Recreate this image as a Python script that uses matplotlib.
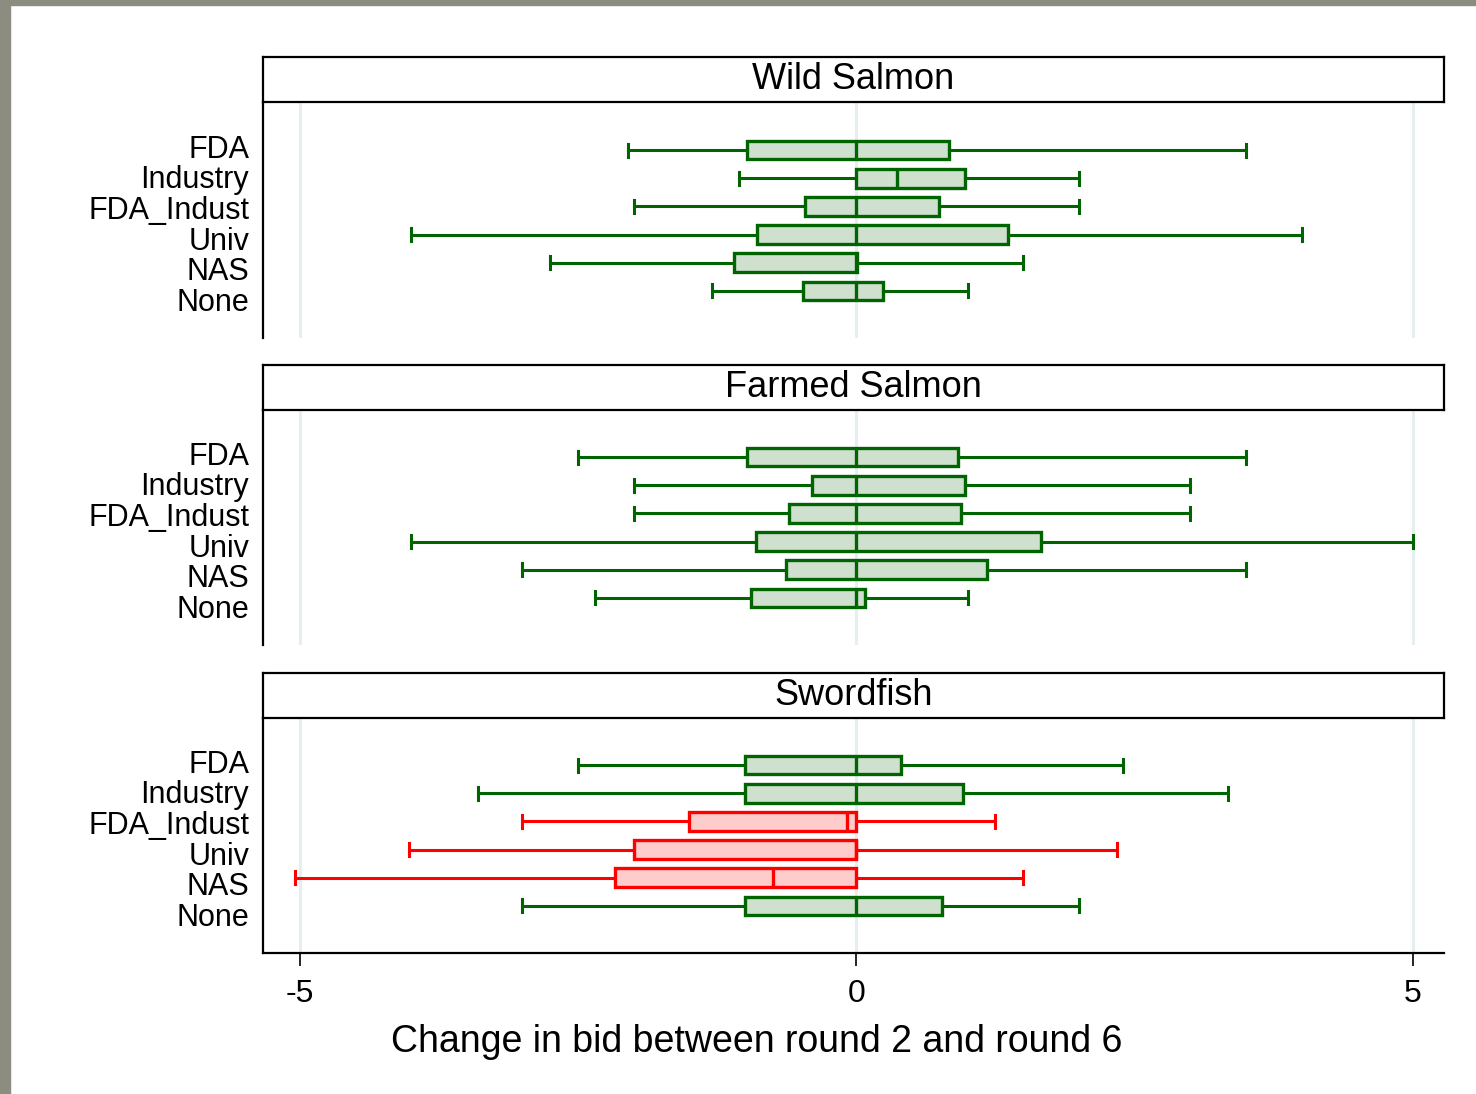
import matplotlib
matplotlib.use('Agg')
import matplotlib.pyplot as plt
from matplotlib.patches import Rectangle

plt.rcParams['font.family'] = ['Liberation Sans', 'DejaVu Sans']

groups = ['FDA', 'Industry', 'FDA_Indust', 'Univ', 'NAS', 'None']
panels = ['Wild Salmon', 'Farmed Salmon', 'Swordfish']

# whisker low, q1, median, q3, whisker high
wild_lo = [-2.05, -1.05, -2.0, -4.0, -2.75, -1.30]
wild_q1 = [-0.98, 0.0, -0.46, -0.89, -1.10, -0.48]
wild_med = [0.0, 0.37, 0.0, 0.0, 0.0, 0.0]
wild_q3 = [0.83, 0.98, 0.74, 1.36, 0.01, 0.24]
wild_hi = [3.50, 2.0, 2.0, 4.0, 1.5, 1.0]

farm_lo = [-2.5, -2.0, -2.0, -4.0, -3.0, -2.35]
farm_q1 = [-0.98, -0.40, -0.60, -0.90, -0.63, -0.95]
farm_med = [0.0, 0.0, 0.0, 0.0, 0.0, 0.0]
farm_q3 = [0.91, 0.98, 0.94, 1.66, 1.17, 0.08]
farm_hi = [3.5, 3.0, 3.0, 5.0, 3.5, 1.0]

sword_lo = [-2.5, -3.4, -3.0, -4.02, -5.04, -3.0]
sword_q1 = [-1.0, -1.0, -1.5, -2.0, -2.17, -1.0]
sword_med = [0.0, 0.0, -0.08, 0.0, -0.75, 0.0]
sword_q3 = [0.40, 0.96, 0.0, 0.0, 0.0, 0.77]
sword_hi = [2.4, 3.34, 1.25, 2.34, 1.5, 2.0]

# which boxes are drawn in red (significant decrease)
sword_red = [False, False, True, True, True, False]

data = [
    (wild_lo, wild_q1, wild_med, wild_q3, wild_hi, [False] * 6),
    (farm_lo, farm_q1, farm_med, farm_q3, farm_hi, [False] * 6),
    (sword_lo, sword_q1, sword_med, sword_q3, sword_hi, sword_red),
]

green_edge = '#006400'
green_fill = '#cfe0cf'
red_edge = '#ff0000'
red_fill = '#ffcccc'

W, H = 1476, 1094
fig = plt.figure(figsize=(W / 100, H / 100), dpi=100)
fig.patch.set_facecolor('white')

# grey frame at top and left
fig.patches.append(Rectangle((0, 1 - 5 / H), 1, 5 / H, transform=fig.transFigure,
                             color='#8c8c80', zorder=0))
fig.patches.append(Rectangle((0, 0), 10 / W, 1, transform=fig.transFigure,
                             color='#8c8c80', zorder=0))

left = 263 / W
width = (1444 - 263) / W
plot_tops = [103, 410, 718]
plot_h = 235
strip_tops = [57, 365, 673]
strip_h = 45

label_pos = [-0.14 + 1.09 * i for i in range(len(groups))]

for k in range(3):
    lo, q1, med, q3, hi, red = data[k]
    ax = fig.add_axes([left, 1 - (plot_tops[k] + plot_h) / H, width, plot_h / H])
    stats = []
    for i in range(len(groups)):
        stats.append({'whislo': lo[i], 'q1': q1[i], 'med': med[i], 'q3': q3[i],
                      'whishi': hi[i], 'fliers': [], 'label': groups[i]})
    bp = ax.bxp(stats, positions=range(len(groups)), widths=0.67, capwidths=0.46,
                orientation='horizontal', patch_artist=True, showfliers=False)
    for i in range(len(groups)):
        ec = red_edge if red[i] else green_edge
        fc = red_fill if red[i] else green_fill
        bp['boxes'][i].set_facecolor(fc)
        bp['boxes'][i].set_edgecolor(ec)
        bp['boxes'][i].set_linewidth(2.4)
        bp['medians'][i].set_color(ec)
        bp['medians'][i].set_linewidth(2.4)
        for j in (2 * i, 2 * i + 1):
            bp['whiskers'][j].set_color(ec)
            bp['whiskers'][j].set_linewidth(2.2)
            bp['caps'][j].set_color(ec)
            bp['caps'][j].set_linewidth(2.2)

    ax.set_xlim(-5.33, 5.28)
    ax.set_ylim(6.67, -1.67)
    ax.set_yticks(label_pos)
    ax.set_yticklabels(groups, fontsize=22)
    ax.tick_params(axis='y', length=0, pad=10)
    for x in (-5, 0, 5):
        ax.axvline(x, color='#e6eff0', lw=2.2, zorder=0)
    ax.spines['top'].set_visible(False)
    ax.spines['right'].set_visible(False)
    ax.spines['left'].set_linewidth(1.6)
    if k < 2:
        ax.spines['bottom'].set_visible(False)
        ax.set_xticks([])
    else:
        ax.spines['bottom'].set_linewidth(1.6)
        ax.set_xticks([-5, 0, 5])
        ax.set_xticklabels(['-5', '0', '5'], fontsize=23)
        ax.tick_params(axis='x', length=9, width=1.2, pad=10)

    sax = fig.add_axes([left, 1 - (strip_tops[k] + strip_h) / H, width, strip_h / H])
    sax.set_xticks([])
    sax.set_yticks([])
    for s in sax.spines.values():
        s.set_linewidth(1.6)
    sax.text(0.5, 0.5, panels[k], ha='center', va='center', fontsize=26,
             transform=sax.transAxes)

fig.text(757 / W, 1 - 1042 / H, 'Change in bid between round 2 and round 6',
         ha='center', va='center', fontsize=27)

fig.savefig('out.png', dpi=100)
